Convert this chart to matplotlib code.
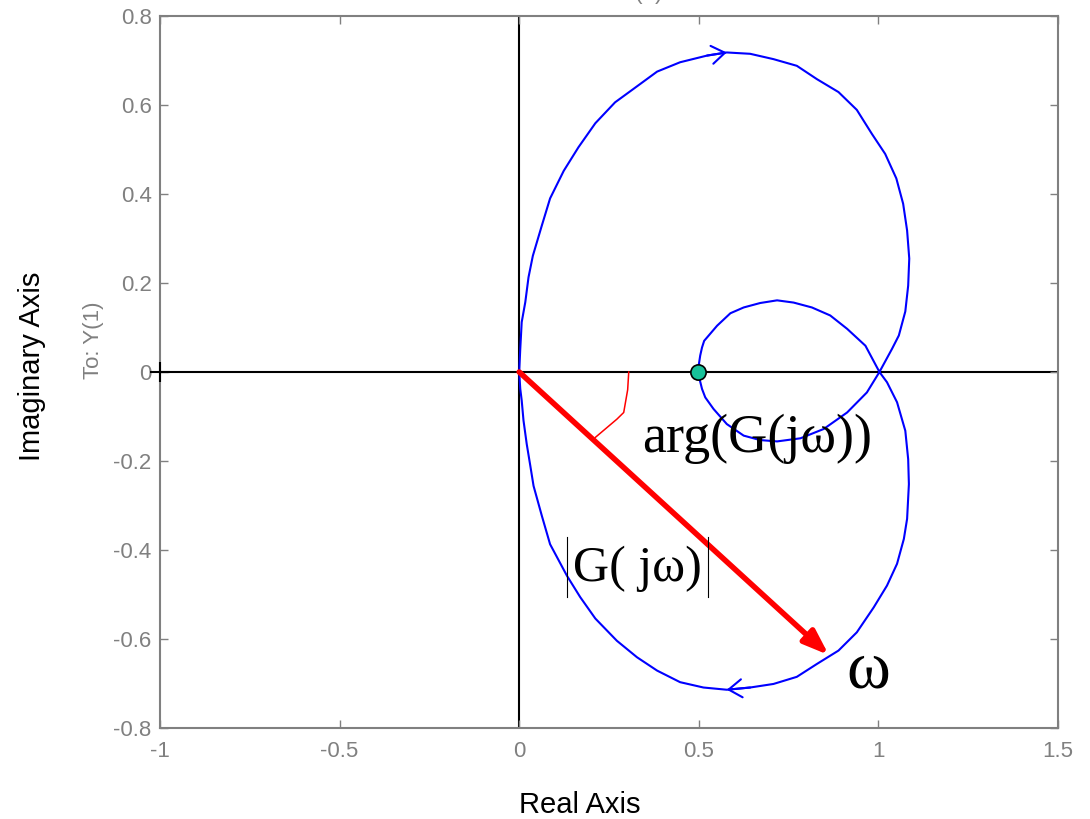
import matplotlib.pyplot as plt

# Nyquist curve (real, imaginary), in drawing order
curve_re = [0, 0.003, 0.007, 0.017, 0.026, 0.038, 0.063, 0.086, 0.124, 0.165, 0.212, 0.267,
            0.318, 0.384, 0.448, 0.523, 0.578, 0.643, 0.708, 0.773, 0.829, 0.889, 0.940, 0.982,
            1.019, 1.050, 1.069, 1.080, 1.086, 1.083, 1.075, 1.057, 1.038, 1.003,
            # inner loop, lower half
            0.968, 0.913, 0.848, 0.783, 0.718, 0.671, 0.625, 0.578, 0.541, 0.518, 0.509, 0.505, 0.497,
            # inner loop, upper half
            0.504, 0.509, 0.515, 0.551, 0.588, 0.625, 0.671, 0.718, 0.764, 0.815, 0.866, 0.913, 0.964, 1.003,
            # outer, lower half
            1.024, 1.052, 1.075, 1.083, 1.085, 1.080, 1.071, 1.052, 1.024, 0.987, 0.940, 0.889,
            0.829, 0.773, 0.708, 0.643, 0.578, 0.513, 0.448, 0.384, 0.328, 0.272, 0.212, 0.170,
            0.133, 0.086, 0.063, 0.040, 0.031, 0.021, 0.012, 0.007, 0.003, 0]
curve_im = [0, 0.052, 0.112, 0.157, 0.213, 0.261, 0.329, 0.390, 0.452, 0.505, 0.559, 0.606,
            0.636, 0.675, 0.696, 0.711, 0.718, 0.715, 0.703, 0.688, 0.658, 0.629, 0.589, 0.535,
            0.490, 0.435, 0.378, 0.318, 0.255, 0.194, 0.136, 0.082, 0.052, 0.0,
            -0.046, -0.091, -0.128, -0.149, -0.156, -0.153, -0.143, -0.117, -0.083, -0.057, -0.038, -0.025, 0.0,
            0.037, 0.055, 0.070, 0.104, 0.132, 0.145, 0.155, 0.161, 0.156, 0.145, 0.127, 0.097, 0.059, 0.0,
            -0.023, -0.068, -0.132, -0.196, -0.252, -0.330, -0.375, -0.431, -0.480, -0.529, -0.585, -0.626,
            -0.656, -0.685, -0.701, -0.709, -0.714, -0.709, -0.697, -0.671, -0.641, -0.604, -0.554, -0.506,
            -0.458, -0.387, -0.323, -0.256, -0.211, -0.162, -0.109, -0.064, -0.038, 0]

# direction chevrons on the curve: (from, to)
dir_up = ((0.523, 0.711), (0.578, 0.718))
dir_down = ((0.643, -0.709), (0.578, -0.714))

# G(jw) vector and angle arc
vec_end = (0.862, -0.636)
arc_re = [0.305, 0.302, 0.291, 0.272, 0.212]
arc_im = [0, -0.04, -0.091, -0.106, -0.147]

crit_pt = (-1, 0)
mark_pt = (0.497, 0)

xticks = [-1, -0.5, 0, 0.5, 1, 1.5]
xtick_labels = ['-1', '-0.5', '0', '0.5', '1', '1.5']
yticks = [-0.8, -0.6, -0.4, -0.2, 0, 0.2, 0.4, 0.6, 0.8]
ytick_labels = ['-0.8', '-0.6', '-0.4', '-0.2', '0', '0.2', '0.4', '0.6', '0.8']

plt.rcParams['font.family'] = ['Liberation Sans', 'DejaVu Sans']
gray = '#808080'

fig = plt.figure(figsize=(10.9, 8.19), dpi=100)
ax = fig.add_axes([0.1468, 0.1111, 0.9706 - 0.1468, 0.9805 - 0.1111])
ax.set_xlim(-1, 1.5)
ax.set_ylim(-0.8, 0.8)

# zero lines
ax.axhline(0, color='black', lw=1.5, zorder=1)
ax.axvline(0, color='black', lw=1.5, zorder=1)
ax.plot(*crit_pt, marker='+', color='black', ms=14, mew=1.5, clip_on=False, zorder=3)

ax.plot(curve_re, curve_im, color='blue', lw=1.5, zorder=2)
for a, b in (dir_up, dir_down):
    ax.annotate('', xy=b, xytext=a,
                arrowprops=dict(arrowstyle='->,head_length=0.95,head_width=0.65',
                                color='blue', lw=1.5, shrinkA=0, shrinkB=0))

ax.annotate('', xy=vec_end, xytext=(0, 0),
            arrowprops=dict(arrowstyle='-|>,head_length=1.5,head_width=0.55',
                            color='red', lw=4, shrinkA=0, shrinkB=0), zorder=4)
ax.plot(arc_re, arc_im, color='red', lw=1.1, zorder=3)
ax.plot(*mark_pt, 'o', ms=11, mfc='#17c29a', mec='black', mew=1.2, zorder=5)

serif = ['Liberation Serif', 'DejaVu Serif']
ax.text(0.343, -0.180, 'arg(G(jω))', family=serif, fontsize=39, ha='left', va='baseline', zorder=6)
ax.text(0.150, -0.470, 'G( jω)', family=serif, fontsize=36, ha='left', va='baseline', zorder=6)
ax.plot([0.134, 0.134], [-0.371, -0.506], color='black', lw=0.8, zorder=6)
ax.plot([0.526, 0.526], [-0.371, -0.506], color='black', lw=0.8, zorder=6)
ax.text(0.910, -0.708, 'ω', family=serif, fontsize=48, ha='left', va='baseline', zorder=6)

ax.set_xticks(xticks)
ax.set_xticklabels(xtick_labels)
ax.set_yticks(yticks)
ax.set_yticklabels(ytick_labels)
ax.tick_params(direction='in', length=6, width=1, color=gray, labelcolor=gray,
               labelsize=16, top=True, right=True)
ax.tick_params(axis='x', pad=9)
ax.tick_params(axis='y', pad=6)
for s in ax.spines.values():
    s.set_color(gray)
    s.set_linewidth(1.5)

fig.text(580 / 1090, 1 - 805 / 819, 'Real Axis', ha='center', va='center', fontsize=21)
fig.text(32 / 1090, 1 - 366 / 819, 'Imaginary Axis', ha='center', va='center', fontsize=21,
         rotation=90)
fig.text(93 / 1090, 1 - 340 / 819, 'To: Y(1)', ha='center', va='center', fontsize=16,
         rotation=90, color=gray)
fig.text(0.5587, 1 + 1 / 819, 'From: U(1)', ha='center', va='baseline', fontsize=16, color=gray)

fig.savefig('out.png', dpi=100)
